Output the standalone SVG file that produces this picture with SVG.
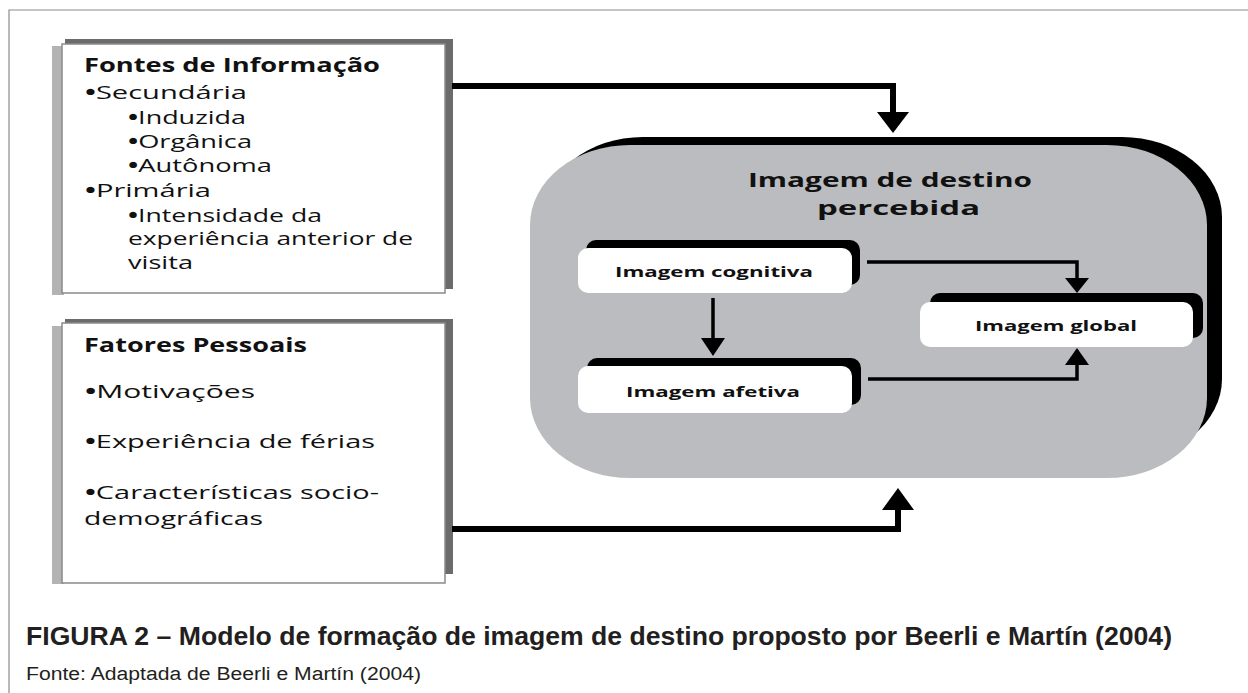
<svg xmlns="http://www.w3.org/2000/svg" width="1248" height="693" viewBox="0 0 1248 693">
<style>
.t{font-family:"Open Sans","DejaVu Sans",sans-serif;fill:#111;}
.tb{font-family:"Open Sans","DejaVu Sans",sans-serif;fill:#111;font-weight:bold;}
.s19{font-size:19px;}
.s20{font-size:20px;}
.s15{font-size:15px;}
.b{font-weight:bold;}
.cap{font-family:"Liberation Sans",Arial,sans-serif;fill:#231f20;}
.lg{fill:#b3b3b3;}
.dg{fill:#6b6b6b;}
.wb{fill:#fff;stroke:#8a8a8a;stroke-width:1.5;}
.blk{fill:#000;}
.wr{fill:#fff;}
.big{fill:none;stroke:#000;stroke-width:6;}
.sm{fill:none;stroke:#000;stroke-width:3.5;}
</style>
<rect width="1248" height="693" fill="#fff"/>
<path d="M9 693 V10 H1248" fill="none" stroke="#8c8c8c" stroke-width="1.2"/>

<g id="fontes">
<rect class="lg" x="52" y="46" width="12" height="249"/>
<rect class="dg" x="65" y="39" width="388" height="250"/>
<rect class="wb" x="62" y="44" width="383" height="249"/>
<text class="tb s19" x="84" y="72" textLength="296" lengthAdjust="spacingAndGlyphs">Fontes de Informação</text>
<text class="t s19" x="85" y="99" textLength="162" lengthAdjust="spacingAndGlyphs"><tspan class="b">•</tspan>Secundária</text>
<text class="t s19" x="128" y="124" textLength="118" lengthAdjust="spacingAndGlyphs"><tspan class="b">•</tspan>Induzida</text>
<text class="t s19" x="128" y="148" textLength="124" lengthAdjust="spacingAndGlyphs"><tspan class="b">•</tspan>Orgânica</text>
<text class="t s19" x="128" y="172" textLength="144" lengthAdjust="spacingAndGlyphs"><tspan class="b">•</tspan>Autônoma</text>
<text class="t s19" x="85" y="197" textLength="126" lengthAdjust="spacingAndGlyphs"><tspan class="b">•</tspan>Primária</text>
<text class="t s19" x="128" y="222" textLength="194" lengthAdjust="spacingAndGlyphs"><tspan class="b">•</tspan>Intensidade da</text>
<text class="t s19" x="128" y="245" textLength="285" lengthAdjust="spacingAndGlyphs">experiência anterior de</text>
<text class="t s19" x="128" y="269" textLength="65" lengthAdjust="spacingAndGlyphs">visita</text>
</g>

<g id="fatores">
<rect class="lg" x="52" y="326" width="12" height="258"/>
<rect class="dg" x="65" y="319" width="388" height="255"/>
<rect class="wb" x="62" y="323" width="383" height="260"/>
<text class="tb s19" x="84" y="352" textLength="223" lengthAdjust="spacingAndGlyphs">Fatores Pessoais</text>
<text class="t s19" x="85" y="398" textLength="170" lengthAdjust="spacingAndGlyphs"><tspan class="b">•</tspan>Motivações</text>
<text class="t s19" x="85" y="448" textLength="290" lengthAdjust="spacingAndGlyphs"><tspan class="b">•</tspan>Experiência de férias</text>
<text class="t s19" x="85" y="499" textLength="294" lengthAdjust="spacingAndGlyphs"><tspan class="b">•</tspan>Características socio-</text>
<text class="t s19" x="84" y="525" textLength="179" lengthAdjust="spacingAndGlyphs">demográficas</text>
</g>

<g id="imagem-destino">
<rect class="blk" x="543" y="137" width="679" height="322" rx="100" ry="80"/>
<rect x="530" y="145" width="677" height="333" rx="100" ry="80" fill="#bbbcbf"/>
<text class="tb s20" x="748" y="187" textLength="284" lengthAdjust="spacingAndGlyphs">Imagem de destino</text>
<text class="tb s20" x="817" y="215" textLength="163" lengthAdjust="spacingAndGlyphs">percebida</text>
</g>

<g id="cognitiva">
<rect class="blk" x="586" y="240" width="274" height="45" rx="10"/>
<rect class="wr" x="578" y="248" width="274" height="45" rx="10"/>
<text class="tb s15" x="615" y="277" textLength="198" lengthAdjust="spacingAndGlyphs">Imagem cognitiva</text>
</g>

<g id="afetiva">
<rect class="blk" x="587" y="358" width="274" height="47" rx="10"/>
<rect class="wr" x="578" y="366" width="274" height="47" rx="10"/>
<text class="tb s15" x="626" y="397" textLength="174" lengthAdjust="spacingAndGlyphs">Imagem afetiva</text>
</g>

<g id="global">
<rect class="blk" x="930" y="293" width="273" height="45" rx="10"/>
<rect class="wr" x="920" y="302" width="273" height="45" rx="10"/>
<text class="tb s15" x="975" y="331" textLength="162" lengthAdjust="spacingAndGlyphs">Imagem global</text>
</g>

<g id="connectors">
<path class="big" d="M452 86 H893 V114"/>
<polygon class="blk" points="877,112 909,112 893,133"/>
<path class="big" d="M452 529 H898 V508"/>
<polygon class="blk" points="882,510 914,510 898,488"/>
<path class="sm" d="M713 298 V340"/>
<polygon class="blk" points="701,338 725,338 713,356"/>
<path class="sm" d="M867 262 H1077 V280"/>
<polygon class="blk" points="1065,278 1089,278 1077,293"/>
<path class="sm" d="M868 379 H1077 V363"/>
<polygon class="blk" points="1065,365 1089,365 1077,348"/>
</g>

<g id="caption">
<text class="cap" x="26" y="645" font-size="25" font-weight="bold" textLength="1146" lengthAdjust="spacingAndGlyphs">FIGURA 2 – Modelo de formação de imagem de destino proposto por Beerli e Martín (2004)</text>
<text class="cap" x="26" y="680" font-size="18" textLength="395" lengthAdjust="spacingAndGlyphs">Fonte: Adaptada de Beerli e Martín (2004)</text>
</g>
</svg>
